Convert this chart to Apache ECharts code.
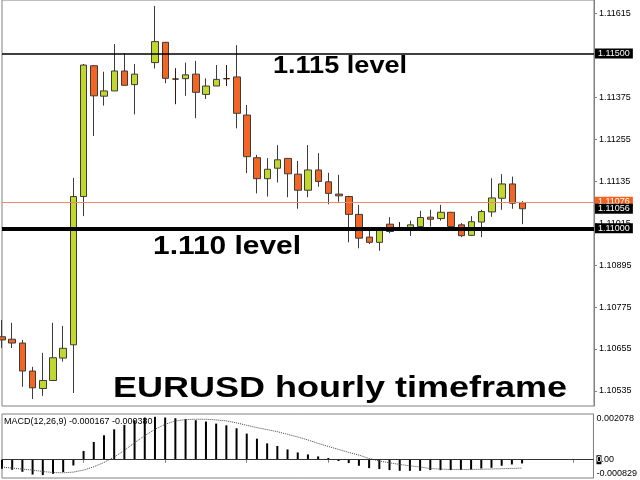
<!DOCTYPE html>
<html>
<head>
<meta charset="utf-8">
<script src="https://cdn.jsdelivr.net/npm/echarts@6/dist/echarts.min.js"></script>
<style>html,body{margin:0;padding:0;background:#fff}#c{width:640px;height:480px}</style>
</head>
<body>
<div id="c"></div>
<script>
// hourly candles (index 14 is an empty bar in the picture)
const opens  = [1.10690,1.10683,1.10672,1.10592,1.10542,1.10565,1.10629,1.10667,1.11091,1.11465,1.11378,1.11393,1.11450,1.11411,null,1.11474,1.11532,1.11427,1.11428,1.11441,1.11383,1.11407,1.11428,1.11433,1.11324,1.11202,1.11142,1.11172,1.11200,1.11155,1.11109,1.11167,1.11133,1.11098,1.11091,1.11040,1.10975,1.10960,1.11012,1.10996,1.10994,1.11005,1.11032,1.11028,1.11046,1.11010,1.10980,1.11018,1.11047,1.11086,1.11127,1.11073];
const closes = [1.10681,1.10672,1.10592,1.10544,1.10565,1.10630,1.10657,1.11091,1.11467,1.11379,1.11393,1.11450,1.11409,1.11441,null,1.11534,1.11429,1.11427,1.11439,1.11389,1.11407,1.11426,1.11428,1.11329,1.11205,1.11142,1.11169,1.11196,1.11156,1.11109,1.11167,1.11134,1.11100,1.11093,1.11040,1.10972,1.10960,1.11000,1.10991,1.10996,1.11010,1.11031,1.11026,1.11046,1.11005,1.10979,1.11019,1.11048,1.11087,1.11127,1.11072,1.11056];
const lows   = [1.10658,1.10658,1.10547,1.10512,1.10521,1.10564,1.10619,1.10529,1.11035,1.11264,1.11351,1.11393,1.11409,1.11326,null,1.11457,1.11415,1.11355,1.11379,1.11315,1.11370,1.11407,1.11407,1.11286,1.11158,1.11100,1.11091,1.11131,1.11089,1.11056,1.11089,1.11119,1.11069,1.11076,1.10960,1.10943,1.10955,1.10936,1.10986,1.10994,1.10978,1.11005,1.11005,1.11022,1.11005,1.10975,1.10978,1.10975,1.11033,1.11053,1.11056,1.11012];
const highs  = [1.10738,1.10730,1.10681,1.10604,1.10644,1.10730,1.10721,1.11144,1.11470,1.11467,1.11448,1.11527,1.11501,1.11470,null,1.11636,1.11533,1.11458,1.11474,1.11479,1.11429,1.11467,1.11467,1.11524,1.11353,1.11210,1.11201,1.11238,1.11201,1.11193,1.11238,1.11215,1.11159,1.11153,1.11093,1.11067,1.11000,1.11000,1.11032,1.11018,1.11022,1.11050,1.11053,1.11067,1.11046,1.11015,1.11035,1.11053,1.11143,1.11155,1.11148,1.11078];

// MACD(12,26,9)
const macdHist   = [-0.000411,-0.000456,-0.000548,-0.000671,-0.000698,-0.000639,-0.000561,-0.000260,0.000397,0.000808,0.001109,0.001383,0.001584,0.001794,0.001917,0.001949,0.001917,0.001885,0.001839,0.001794,0.001734,0.001643,0.001565,0.001428,0.001187,0.000958,0.000744,0.000625,0.000470,0.000333,0.000242,0.000151,0.000078,-0.000059,-0.000151,-0.000274,-0.000379,-0.000424,-0.000470,-0.000502,-0.000502,-0.000502,-0.000470,-0.000470,-0.000470,-0.000456,-0.000443,-0.000397,-0.000365,-0.000274,-0.000214,-0.000167];
const macdSignal = [-0.000333,-0.000378,-0.000424,-0.000470,-0.000534,-0.000579,-0.000593,-0.000561,-0.000470,-0.000319,-0.000123,0.000123,0.000424,0.000775,0.001094,0.001382,0.001610,0.001765,0.001824,0.001838,0.001838,0.001810,0.001765,0.001674,0.001564,0.001459,0.001368,0.001277,0.001154,0.001035,0.000898,0.000743,0.000606,0.000470,0.000333,0.000214,0.000059,-0.000059,-0.000137,-0.000214,-0.000274,-0.000333,-0.000397,-0.000424,-0.000442,-0.000442,-0.000442,-0.000433,-0.000420,-0.000406,-0.000392,-0.000380];

// axis ticks / levels
const priceTicks = [1.10535,1.10655,1.10775,1.10895,1.11015,1.11135,1.11255,1.11375,1.11495,1.11615];
const macdTicks  = [-0.000829,0,0.002078];
const levelUpper = 1.11500;
const levelLower = 1.11000;
const askPrice   = 1.11076;
const bidPrice   = 1.11056;
const totalSlots = 59;
const categories = Array.from({length: totalSlots}, (_, i) => String(i));

const candleData = opens.map((o, i) => o == null ? '-' : [o, closes[i], lows[i], highs[i]]);

const boxLabel = (bg) => ({
  show: true, position: 'end', distance: 1,
  formatter: p => p.value.toFixed(5),
  backgroundColor: bg, color: '#fff', fontSize: 9, lineHeight: 10,
  padding: [0, 3, 0, 3], fontFamily: 'Liberation Sans'
});

const chart = echarts.init(document.getElementById('c'), null, {renderer: 'canvas'});
chart.setOption({
  animation: false,
  backgroundColor: '#fff',
  grid: [
    {left: 2, right: 46, top: 0, height: 406, show: true, borderColor: '#808080', borderWidth: 1, backgroundColor: '#fff'},
    {left: 2, right: 46, top: 414, height: 64, show: true, borderColor: '#808080', borderWidth: 1, backgroundColor: '#fff'}
  ],
  xAxis: [
    {type: 'category', gridIndex: 0, data: categories, boundaryGap: false,
     axisLine: {show: false}, axisTick: {show: false}, axisLabel: {show: false}, splitLine: {show: false}},
    {type: 'category', gridIndex: 1, data: categories, boundaryGap: false,
     axisLine: {show: false}, axisTick: {show: true, interval: 7, length: 3, lineStyle: {color: '#808080'}},
     axisLabel: {show: false}, splitLine: {show: false}}
  ],
  yAxis: [
    {type: 'value', gridIndex: 0, position: 'right', min: 1.10492, max: 1.11653,
     axisLine: {show: true, lineStyle: {color: '#808080'}},
     axisTick: {show: true, length: 3, customValues: priceTicks, lineStyle: {color: '#808080'}},
     axisLabel: {customValues: priceTicks, formatter: v => v.toFixed(5), fontSize: 9, color: '#000', margin: 5, fontFamily: 'Liberation Sans'},
     splitLine: {show: false}},
    {type: 'value', gridIndex: 1, position: 'right', min: -0.000829, max: 0.002078,
     axisLine: {show: true, lineStyle: {color: '#808080'}},
     axisTick: {show: false},
     axisLabel: {customValues: macdTicks, fontSize: 9, color: '#000', margin: 3, fontFamily: 'Liberation Sans',
       verticalAlignMaxLabel: 'top', verticalAlignMinLabel: 'bottom',
       formatter: v => v === 0 ? '{z|0}.00' : v.toFixed(6),
       rich: {z: {backgroundColor: '#000', color: '#fff', fontSize: 9, fontFamily: 'Liberation Sans'}}},
     splitLine: {show: false}}
  ],
  series: [
    {type: 'candlestick', xAxisIndex: 0, yAxisIndex: 0, data: candleData, barWidth: 7, clip: true,
     itemStyle: {color: '#C2D72E', color0: '#F26522', borderColor: '#3c3c3c', borderColor0: '#3c3c3c',
                 borderColorDoji: '#3a1606', borderWidth: 1},
     markLine: {symbol: 'none', silent: true, animation: false, precision: 5,
       data: [
         {yAxis: levelUpper, lineStyle: {color: '#000', width: 1.5, type: 'solid'}, label: boxLabel('#000')},
         {yAxis: askPrice, lineStyle: {color: '#F2886A', width: 1, type: 'solid'}, label: boxLabel('#F5621D')},
         {yAxis: bidPrice, lineStyle: {color: 'rgba(0,0,0,0)', width: 1, type: 'solid'}, label: boxLabel('#000')},
         {yAxis: levelLower, lineStyle: {color: '#000', width: 4, type: 'solid'}, label: boxLabel('#000')}
       ]}},
    {type: 'bar', xAxisIndex: 1, yAxisIndex: 1, data: macdHist, barWidth: 2,
     itemStyle: {color: '#000'}},
    {type: 'line', xAxisIndex: 1, yAxisIndex: 1, data: macdSignal, symbol: 'none',
     lineStyle: {color: '#444', width: 1, type: 'dotted'}},
    {type: 'line', xAxisIndex: 1, yAxisIndex: 1, data: [], markLine: {symbol: 'none', silent: true,
      data: [{yAxis: 0}], lineStyle: {color: '#333', width: 1, type: 'solid'}, label: {show: false}}}
  ],
  graphic: [
    {type: 'text', x: 340, y: 66, scaleX: 1.13, z: 100,
     style: {text: '1.115 level', font: 'bold 24px "Liberation Sans"', fill: '#000', align: 'center', verticalAlign: 'middle'}},
    {type: 'text', x: 227, y: 247, scaleX: 1.15, z: 100,
     style: {text: '1.110 level', font: 'bold 26px "Liberation Sans"', fill: '#000', align: 'center', verticalAlign: 'middle'}},
    {type: 'text', x: 340, y: 389, scaleX: 1.2, z: 100,
     style: {text: 'EURUSD hourly timeframe', font: 'bold 30px "Liberation Sans"', fill: '#000', align: 'center', verticalAlign: 'middle'}},
    {type: 'text', x: 4, y: 422, z: 100,
     style: {text: 'MACD(12,26,9) -0.000167 -0.000380', font: '9px "Liberation Sans"', fill: '#000', align: 'left', verticalAlign: 'middle'}}
  ]
});
</script>
</body>
</html>
